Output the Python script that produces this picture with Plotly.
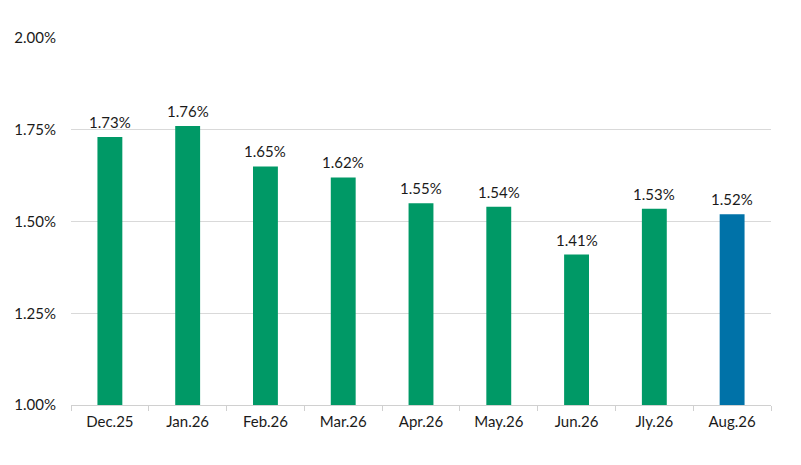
import plotly.graph_objects as go

categories = ["Dec.25", "Jan.26", "Feb.26", "Mar.26", "Apr.26", "May.26", "Jun.26", "Jly.26", "Aug.26"]
values = [1.73, 1.76, 1.65, 1.62, 1.55, 1.54, 1.41, 1.535, 1.52]
labels = ["1.73%", "1.76%", "1.65%", "1.62%", "1.55%", "1.54%", "1.41%", "1.53%", "1.52%"]
colors = ["#009966"] * 8 + ["#0072a8"]
yticks = [1.00, 1.25, 1.50, 1.75, 2.00]
yticklabels = ["1.00%", "1.25%", "1.50%", "1.75%", "2.00%"]

fig = go.Figure(go.Bar(
    x=categories, y=values, marker=dict(color=colors, line=dict(width=0)),
))
for c, v, t in zip(categories, values, labels):
    fig.add_annotation(x=c, y=v, text=t, showarrow=False, yanchor="bottom",
                       yshift=4, font=dict(size=15, color="#1a1a1a"))
fig.update_layout(
    width=801, height=465, margin=dict(l=63, r=38, t=30, b=68, autoexpand=False),
    paper_bgcolor="white", plot_bgcolor="white",
    font=dict(family="Lato, Noto Sans, sans-serif", size=15, color="#1a1a1a"),
    bargap=0.68, showlegend=False,
)
fig.update_yaxes(range=[1.0, 2.0], tickvals=yticks, ticktext=yticklabels,
                 showgrid=True, gridcolor="#d9d9d9", gridwidth=1, automargin=False,
                 zeroline=False, showline=False, ticks="", ticklabelstandoff=14,
                 tickfont=dict(size=15))
fig.update_xaxes(showline=True, linecolor="#d0d0d0", linewidth=1, automargin=False,
                 ticks="outside", tickson="boundaries", tickcolor="#d0d0d0",
                 ticklen=5, ticklabelstandoff=3, tickfont=dict(size=15))
fig.write_html("out.html")
